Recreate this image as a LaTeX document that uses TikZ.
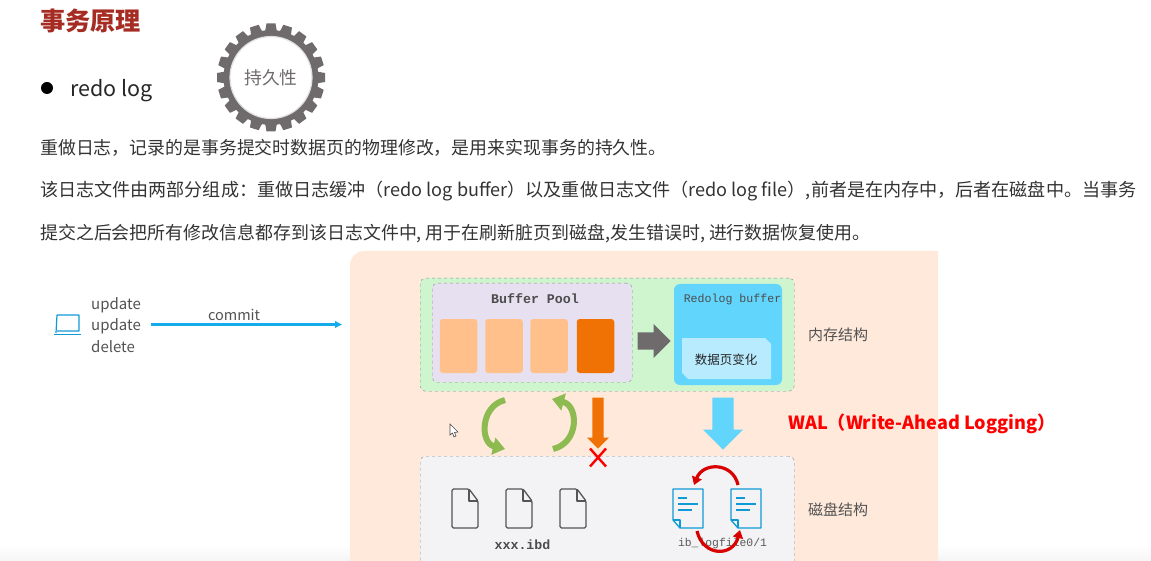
\documentclass[tikz,border=0pt]{standalone}
\usepackage{fontspec}
\setmainfont{Noto Sans CJK SC}
\setmonofont{Liberation Mono}
\usetikzlibrary{shapes.arrows,arrows.meta}
\definecolor{titlered}{HTML}{A62B22}
\definecolor{peach}{HTML}{FEE9DB}
\definecolor{memgreen}{HTML}{CFF5CF}
\definecolor{poolgray}{HTML}{E6E0F0}
\definecolor{pagepeach}{HTML}{FFC08C}
\definecolor{pageorange}{HTML}{F07205}
\definecolor{redosky}{HTML}{62D5FD}
\definecolor{redopale}{HTML}{B9EBFF}
\definecolor{diskgray}{HTML}{F3F2F4}
\definecolor{geargray}{HTML}{6F6B6D}
\definecolor{leafgreen}{HTML}{8DBB52}
\definecolor{filegray}{HTML}{555555}
\definecolor{fileblue}{HTML}{0F9AD6}
\definecolor{linkblue}{HTML}{14ABEB}
\definecolor{textgray}{HTML}{333333}
\newcommand{\fs}[1]{\fontsize{#1}{#1}\selectfont}
\begin{document}
\begin{tikzpicture}[x=1pt,y=-1pt,
  para/.style={anchor=west,inner sep=0pt,text=textgray},
  small/.style={inner sep=0pt,text=textgray!85,font=\fs{15}},
  dashbox/.style={draw=gray!90,dashed,rounded corners=5pt,inner sep=0pt,anchor=north west},
  pagebox/.style={rounded corners=3pt,inner sep=0pt,minimum width=37.5pt,minimum height=54pt},
  blockarrow/.style={single arrow,inner sep=0pt,single arrow tip angle=90,single arrow head indent=0pt,anchor=tip},
  cyclearrow/.style={leafgreen,line width=6pt,-{Triangle[length=12pt,width=17pt]}},
  swaparrow/.style={red!85!black,line width=3.2pt,-{Triangle[length=8pt,width=10pt]}},
  datafile/.style={filegray,line width=1.3pt,rounded corners=1.5pt,line join=round},
  logfile/.style={fileblue,line width=1.3pt,line join=round},
]
  \useasboundingbox (0,0) rectangle (1151,561);
  \shade[top color=white,bottom color=black!4] (0,545) rectangle (1151,561);

  \node[anchor=west,inner sep=0pt,text=titlered,font=\fs{25.2}\bfseries] (title) at (40,21) {事务原理};
  \node[circle,fill=black,inner sep=0pt,minimum size=12pt] (bullet) at (47,88) {};
  \node[anchor=west,inner sep=0pt,text=black!85,font=\fs{21.5}] (redolog) at (70,91) {redo log};

  \foreach \a in {0,18,...,342} {
    \fill[geargray,rotate around={\a:(271,77.5)}] (265,32) -- (266.5,23.5) -- (275.5,23.5) -- (277,32) -- cycle;
  }
  \fill[geargray] (271,77.5) circle (47.5pt);
  \node[circle,fill=white,draw=gray!25,line width=1.2pt,text=geargray,font=\fs{17.8},minimum size=82pt,inner sep=0pt] (durable) at (271,77.5) {持久性};

  \node[para,font=\fs{17.9}] (line1) at (40,147.5) {重做日志，记录的是事务提交时数据页的物理修改，是用来实现事务的持久性。};
  \node[para,font=\fs{18.08}] (line2) at (40,191.5) {该日志文件由两部分组成：重做日志缓冲（redo log buffer）以及重做日志文件（redo log file）,前者是在内存中，后者在磁盘中。当事务};
  \node[para,font=\fs{17.94}] (line3) at (40,233.5) {提交之后会把所有修改信息都存到该日志文件中, 用于在刷新脏页到磁盘,发生错误时, 进行数据恢复使用。};

  \fill[peach] (350,600) [rounded corners=14pt] -- (350,251) [sharp corners] -- (938,251) -- (938,600) -- cycle;

  \node[dashbox,fill=memgreen,minimum width=374pt,minimum height=113pt] (memory) at (420,278) {};
  \node[dashbox,fill=poolgray,minimum width=200pt,minimum height=99pt] (pool) at (432,283) {};
  \node[font=\ttfamily\bfseries\fs{13.3},text=black!70] (poollabel) at (535,299) {Buffer Pool};
  \node[pagebox,fill=pagepeach] (page1) at (458.5,346) {};
  \node[pagebox,fill=pagepeach] (page2) at (504,346) {};
  \node[pagebox,fill=pagepeach] (page3) at (549,346) {};
  \node[pagebox,fill=pageorange] (page4) at (595.5,346) {};
  \node[blockarrow,fill=geargray,minimum width=34pt,minimum height=33pt,single arrow head extend=8.5pt] (flush) at (671,341) {\rule{0pt}{17pt}};
  \node[fill=redosky,rounded corners=6pt,inner sep=0pt,minimum width=108pt,minimum height=101pt] (redobuf) at (728,334.5) {};
  \node[font=\ttfamily\fs{11.6},text=black!70,inner sep=0pt] (redolabel) at (732.5,299) {Redolog buffer};
  \fill[redopale] (682,338) -- (765,338) -- (771,344) -- (771,379) -- (688,379) -- (682,373) -- cycle;
  \node[font=\fs{12.5},text=black!85,inner sep=0pt] (change) at (726,360) {数据页变化};
  \node[small,anchor=west] (memlabel) at (808,335) {内存结构};

  \node[dashbox,fill=diskgray,minimum width=374pt,minimum height=120pt] (disk) at (420,456) {};
  \node[small,anchor=west] (disklabel) at (808,510) {磁盘结构};

  \coordinate (leftup) at (505,400);
  \coordinate (leftdown) at (505,449);
  \coordinate (rightup) at (552,399);
  \coordinate (rightdown) at (553,449);
  \draw[cyclearrow] (leftup) .. controls (480,406) and (480,443) .. (leftdown);
  \draw[cyclearrow] (rightdown) .. controls (579,443) and (579,406) .. (rightup);

  \node[blockarrow,fill=pageorange,minimum width=22pt,minimum height=51pt,single arrow head extend=5.5pt,rotate=-90] (dirty) at (598,449) {\rule{0pt}{11pt}};
  \node[blockarrow,fill=redosky,minimum width=40pt,minimum height=52pt,single arrow head extend=9.5pt,rotate=-90] (logflush) at (723,450) {\rule{0pt}{21pt}};
  \coordinate (cross) at (598,457.5);
  \draw[red,line width=2.4pt] ([shift={(-8,-9)}]cross) -- ([shift={(8,9)}]cross);
  \draw[red,line width=2.4pt] ([shift={(8,-9)}]cross) -- ([shift={(-8,9)}]cross);

  \foreach \x in {452,506,560} {
    \draw[datafile] (\x,489) -- (\x+17,489) -- (\x+26,501) -- (\x+26,528) -- (\x,528) -- cycle;
    \draw[datafile,rounded corners=0pt] (\x+17,489) -- (\x+17,501) -- (\x+26,501);
  }
  \node[font=\ttfamily\bfseries\fs{13.3},text=black!70,inner sep=0pt] (ibd) at (522.5,545) {xxx.ibd};

  \foreach \x/\n in {673/a,731/b} {
    \draw[logfile,fill=diskgray] (\x,489) -- (\x+30,489) -- (\x+30,528) -- (\x+7,528) -- (\x,520) -- cycle;
    \draw[logfile] (\x+7,528) -- (\x+7,520) -- (\x,520);
    \draw[logfile] (\x+5,498) -- (\x+14,498) (\x+5,504) -- (\x+25,504) (\x+5,510) -- (\x+19,510);
    \coordinate (log\n) at (\x,489);
  }
  \node[font=\ttfamily\fs{11.4},text=black!65,inner sep=0pt] (logname) at (722.5,544) {ib\_logfile0/1};
  \draw[swaparrow] ([shift={(65,-4)}]loga) .. controls ([shift={(60,-27)}]loga) and ([shift={(30,-27)}]loga) .. ([shift={(21,-4)}]loga);
  \draw[swaparrow] ([shift={(24,42)}]loga) .. controls ([shift={(30,68)}]loga) and ([shift={(60,68)}]loga) .. ([shift={(67,41)}]loga);

  \node[anchor=west,inner sep=0pt,text=red,font=\fs{18.1}\bfseries] (wal) at (788,424) {WAL（Write-Ahead Logging）};

  \fill[white,draw=black!70,line width=.6pt] (450,424) -- (450,435) -- (452.5,433) -- (454,437) -- (456,436) -- (454.5,432.5) -- (458,432) -- cycle;

  \draw[fileblue,line width=1.2pt,line join=round] (56,333) -- (57,315) -- (79,315) -- (79,331) -- (57,331);
  \draw[fileblue,line width=1.2pt] (54,334.5) -- (81,334.5);
  \node[small,anchor=west] (op1) at (91,305.5) {update};
  \node[small,anchor=west] (op2) at (91,326.5) {update};
  \node[small,anchor=west] (op3) at (91,346.5) {delete};
  \coordinate (client) at (151,324.5);
  \coordinate (server) at (342,324.5);
  \draw[linkblue,line width=2.2pt,-{Triangle[length=7pt,width=6.5pt]}] (client) -- node[small,font=\fs{14.5},above=3pt,pos=.435] (commit) {commit} (server);
\end{tikzpicture}
\end{document}
